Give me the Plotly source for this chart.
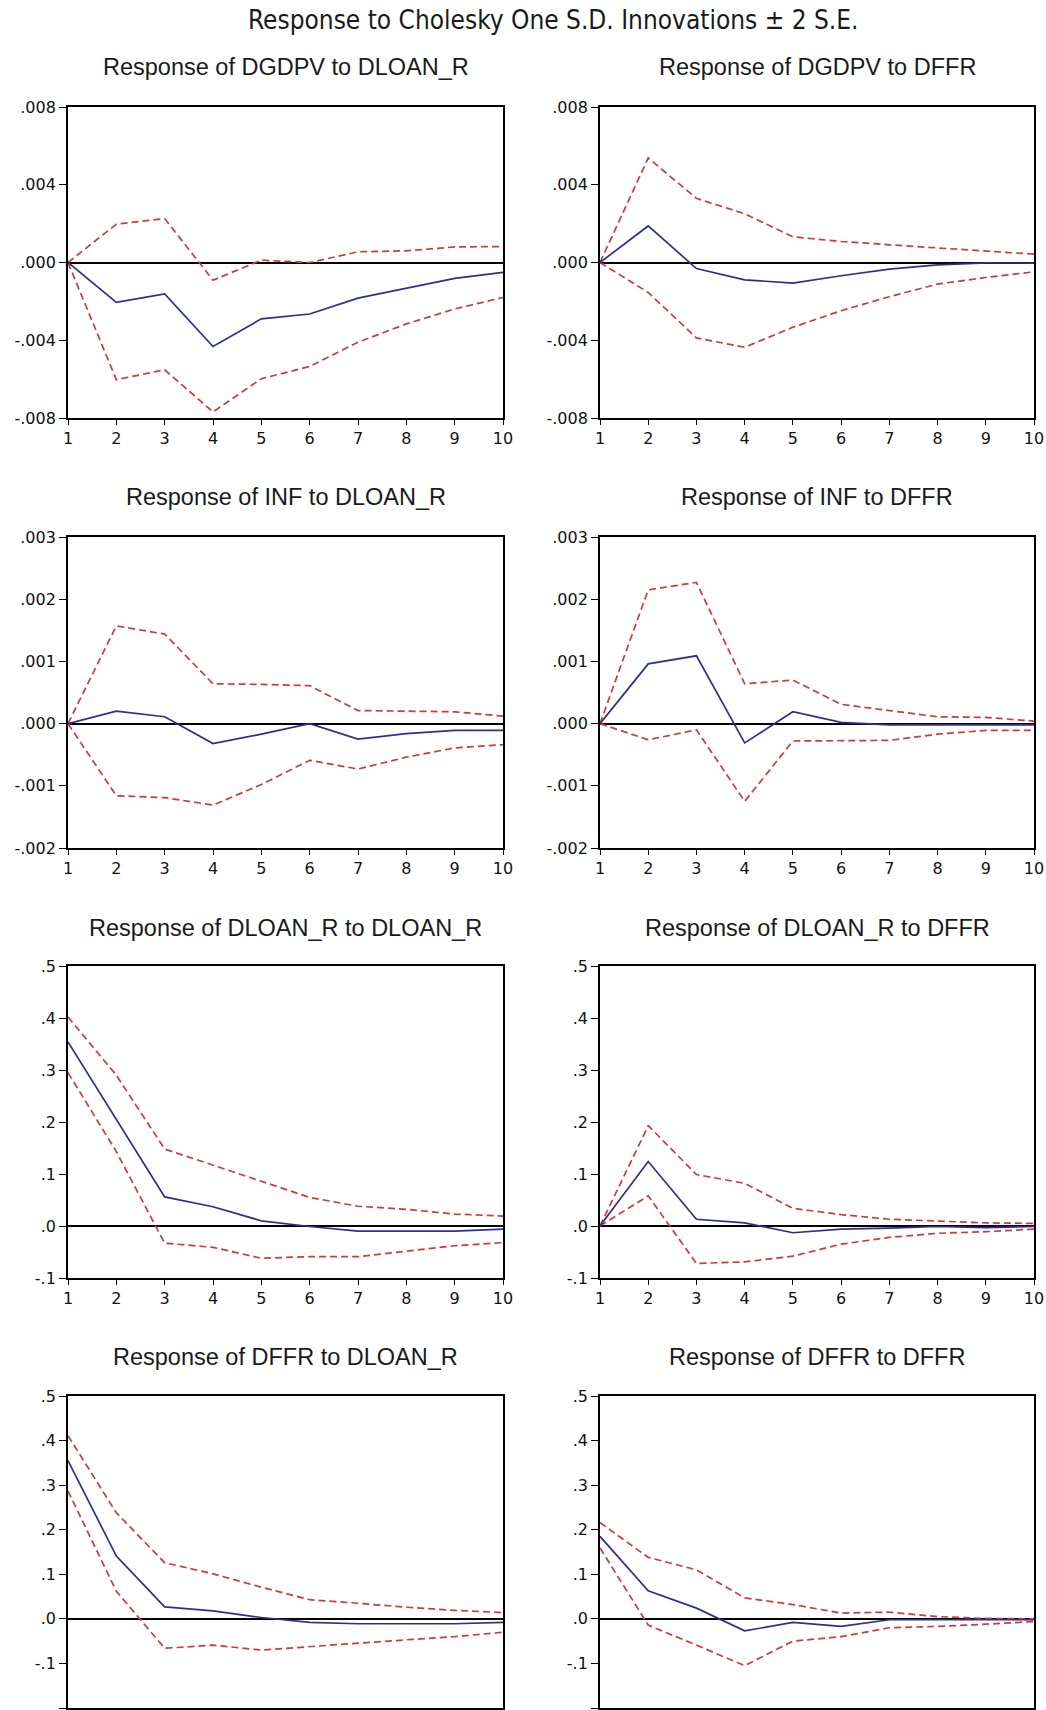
import plotly.graph_objects as go
from plotly.subplots import make_subplots

periods = [1, 2, 3, 4, 5, 6, 7, 8, 9, 10]
x_tick_labels = ["1", "2", "3", "4", "5", "6", "7", "8", "9", "10"]

main_title = "Response to Cholesky One S.D. Innovations \u00b1 2 S.E."
panel_titles = [
    "Response of DGDPV to DLOAN_R", "Response of DGDPV to DFFR",
    "Response of INF to DLOAN_R", "Response of INF to DFFR",
    "Response of DLOAN_R to DLOAN_R", "Response of DLOAN_R to DFFR",
    "Response of DFFR to DLOAN_R", "Response of DFFR to DFFR",
]

# Response of DGDPV to DLOAN_R
dgdpv_dloan_resp = [0.0, -0.00205, -0.00162, -0.00432, -0.0029, -0.00265, -0.00183, -0.00132, -0.00082, -0.00051]
dgdpv_dloan_upper = [0.0, 0.00197, 0.00226, -0.00091, 0.00012, 0.0, 0.00055, 0.0006, 0.0008, 0.00082]
dgdpv_dloan_lower = [0.0, -0.00603, -0.00552, -0.00769, -0.00598, -0.00535, -0.0041, -0.00316, -0.00239, -0.0018]

# Response of DGDPV to DFFR
dgdpv_dffr_resp = [0.0, 0.00188, -0.00031, -0.00089, -0.00106, -0.00068, -0.00034, -0.00012, -0.00002, -0.00003]
dgdpv_dffr_upper = [0.0, 0.00538, 0.0033, 0.00251, 0.00132, 0.00108, 0.00091, 0.00074, 0.0006, 0.00043]
dgdpv_dffr_lower = [0.0, -0.00154, -0.00388, -0.00436, -0.00333, -0.00248, -0.00176, -0.00111, -0.00077, -0.00048]

# Response of INF to DLOAN_R
inf_dloan_resp = [0.0, 0.0002, 0.00011, -0.00032, -0.00017, 0.0, -0.00025, -0.00016, -0.00011, -0.00011]
inf_dloan_upper = [0.0, 0.00157, 0.00144, 0.00064, 0.00063, 0.00061, 0.00021, 0.0002, 0.00019, 0.00012]
inf_dloan_lower = [0.0, -0.00116, -0.00119, -0.00131, -0.00098, -0.00059, -0.00073, -0.00054, -0.00039, -0.00034]

# Response of INF to DFFR
inf_dffr_resp = [0.0, 0.00096, 0.00109, -0.00031, 0.00019, 0.00002, -0.00002, -0.00002, -0.00001, -0.00002]
inf_dffr_upper = [0.0, 0.00215, 0.00227, 0.00064, 0.0007, 0.00031, 0.00021, 0.00011, 0.0001, 0.00004]
inf_dffr_lower = [0.0, -0.00026, -0.0001, -0.00125, -0.00028, -0.00027, -0.00027, -0.00017, -0.00011, -0.00011]

# Response of DLOAN_R to DLOAN_R
dloan_dloan_resp = [0.354, 0.204, 0.056, 0.037, 0.010, -0.001, -0.010, -0.010, -0.010, -0.006]
dloan_dloan_upper = [0.402, 0.29, 0.148, 0.117, 0.085, 0.055, 0.038, 0.032, 0.023, 0.019]
dloan_dloan_lower = [0.295, 0.143, -0.033, -0.041, -0.062, -0.059, -0.059, -0.049, -0.038, -0.032]

# Response of DLOAN_R to DFFR
dloan_dffr_resp = [0.0, 0.124, 0.013, 0.006, -0.013, -0.006, -0.004, -0.001, -0.003, -0.001]
dloan_dffr_upper = [0.0, 0.193, 0.099, 0.082, 0.034, 0.022, 0.013, 0.010, 0.006, 0.005]
dloan_dffr_lower = [0.0, 0.058, -0.072, -0.069, -0.058, -0.035, -0.022, -0.014, -0.011, -0.006]

# Response of DFFR to DLOAN_R
dffr_dloan_resp = [0.355, 0.141, 0.027, 0.018, 0.003, -0.008, -0.011, -0.011, -0.011, -0.008]
dffr_dloan_upper = [0.411, 0.238, 0.126, 0.101, 0.071, 0.043, 0.035, 0.026, 0.019, 0.014]
dffr_dloan_lower = [0.287, 0.062, -0.066, -0.059, -0.070, -0.062, -0.055, -0.047, -0.040, -0.030]

# Response of DFFR to DFFR
dffr_dffr_resp = [0.185, 0.063, 0.024, -0.027, -0.008, -0.017, -0.002, -0.002, -0.002, -0.002]
dffr_dffr_upper = [0.216, 0.138, 0.110, 0.047, 0.032, 0.013, 0.015, 0.005, 0.001, 0.0]
dffr_dffr_lower = [0.159, -0.014, -0.059, -0.105, -0.050, -0.040, -0.020, -0.017, -0.012, -0.006]

# y-axis ticks per row
row1_tickvals = [-0.008, -0.004, 0.0, 0.004, 0.008]
row1_ticktext = ["-.008", "-.004", ".000", ".004", ".008"]
row2_tickvals = [-0.002, -0.001, 0.0, 0.001, 0.002, 0.003]
row2_ticktext = ["-.002", "-.001", ".000", ".001", ".002", ".003"]
row3_tickvals = [-0.1, 0.0, 0.1, 0.2, 0.3, 0.4, 0.5]
row3_ticktext = ["-.1", ".0", ".1", ".2", ".3", ".4", ".5"]
row4_tickvals = [-0.2, -0.1, 0.0, 0.1, 0.2, 0.3, 0.4, 0.5]
row4_ticktext = ["-.2", "-.1", ".0", ".1", ".2", ".3", ".4", ".5"]

panels = [
    (dgdpv_dloan_resp, dgdpv_dloan_upper, dgdpv_dloan_lower),
    (dgdpv_dffr_resp, dgdpv_dffr_upper, dgdpv_dffr_lower),
    (inf_dloan_resp, inf_dloan_upper, inf_dloan_lower),
    (inf_dffr_resp, inf_dffr_upper, inf_dffr_lower),
    (dloan_dloan_resp, dloan_dloan_upper, dloan_dloan_lower),
    (dloan_dffr_resp, dloan_dffr_upper, dloan_dffr_lower),
    (dffr_dloan_resp, dffr_dloan_upper, dffr_dloan_lower),
    (dffr_dffr_resp, dffr_dffr_upper, dffr_dffr_lower),
]
row_ticks = [
    (row1_tickvals, row1_ticktext),
    (row2_tickvals, row2_ticktext),
    (row3_tickvals, row3_ticktext),
    (row4_tickvals, row4_ticktext),
]

W, H = 1046, 1710
col_px = [(68, 503), (600, 1034)]
row_px = [(107, 418), (537, 848), (966, 1278), (1396, 1708)]
title_y_px = [67, 497, 928, 1357]

BLUE = "#2e2e92"
RED = "#d03a3a"
TICK_FONT = dict(family="DejaVu Sans, Liberation Sans, sans-serif", size=16, color="#111111")

fig = make_subplots(rows=4, cols=2)

for i, (resp, up, lo) in enumerate(panels):
    r, c = i // 2 + 1, i % 2 + 1
    for series in (up, lo):
        fig.add_trace(go.Scatter(x=periods, y=series, mode="lines",
                                 line=dict(color=RED, width=1.7, dash="7px,4px"),
                                 showlegend=False, hoverinfo="skip"), row=r, col=c)
    fig.add_trace(go.Scatter(x=periods, y=resp, mode="lines",
                             line=dict(color=BLUE, width=1.7),
                             showlegend=False), row=r, col=c)
    x0, x1 = col_px[c - 1]
    y0, y1 = row_px[r - 1]
    tv, tt = row_ticks[r - 1]
    # the bottom row's period labels fall below the page edge in the reference
    fig.update_xaxes(domain=[x0 / W, x1 / W], range=[1, 10], automargin=False,
                     tickvals=periods, ticktext=x_tick_labels, showticklabels=(r < 4),
                     ticks="outside", ticklen=5, tickwidth=1.3, tickcolor="black",
                     showline=True, linecolor="black", linewidth=1.8, mirror=True,
                     showgrid=False, zeroline=False, tickfont=TICK_FONT,
                     row=r, col=c)
    fig.update_yaxes(domain=[1 - y1 / H, 1 - y0 / H], range=[tv[0], tv[-1]], automargin=False,
                     tickvals=tv, ticktext=tt,
                     ticks="outside", ticklen=7, tickwidth=1.3, tickcolor="black",
                     showline=True, linecolor="black", linewidth=1.8, mirror=True,
                     showgrid=False, zeroline=True, zerolinecolor="black", zerolinewidth=1.5,
                     tickfont=TICK_FONT, row=r, col=c)
    fig.add_annotation(text=panel_titles[i], xref="paper", yref="paper",
                       x=(x0 + x1) / 2 / W, y=1 - title_y_px[r - 1] / H,
                       xanchor="center", yanchor="middle", showarrow=False,
                       font=dict(family="Liberation Sans, Arial, sans-serif", size=23.5, color="#1a1a1a"))

fig.add_annotation(text=main_title, xref="paper", yref="paper",
                   x=553 / W, y=1 - 20 / H, xanchor="center", yanchor="middle",
                   showarrow=False,
                   font=dict(family="Liberation Sans Narrow, DejaVu Sans Condensed, Arial Narrow, sans-serif",
                             size=26, color="#1a1a1a"))

fig.update_layout(width=W, height=H, margin=dict(l=0, r=0, t=0, b=0, autoexpand=False),
                  paper_bgcolor="white", plot_bgcolor="white", showlegend=False)

fig.write_html("out.html", config={"displayModeBar": False},
               post_script="document.body.style.margin='0';document.body.style.overflow='hidden';")
